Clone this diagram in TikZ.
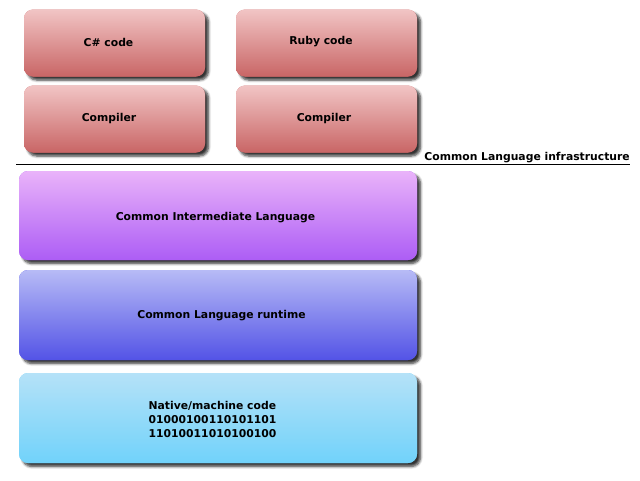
\documentclass[tikz,border=0pt]{standalone}
\usepackage{fontspec}
\setmainfont{DejaVu Sans}
\usetikzlibrary{shadows.blur}
\definecolor{redtop}{RGB}{242,198,198}
\definecolor{redbot}{RGB}{200,100,100}
\definecolor{purtop}{RGB}{234,180,250}
\definecolor{purbot}{RGB}{172,92,245}
\definecolor{blutop}{RGB}{184,188,246}
\definecolor{blubot}{RGB}{82,82,230}
\definecolor{cyntop}{RGB}{182,226,248}
\definecolor{cynbot}{RGB}{112,210,250}
\tikzset{
  box/.style={rounded corners=9pt, inner sep=0pt,
    blur shadow={shadow xshift=3.5pt, shadow yshift=-3.5pt, shadow blur steps=6, shadow opacity=80, shadow blur radius=2.5pt}},
  grad/.style 2 args={fill=#2, path picture={\shade[top color=#1, bottom color=#2]
      ([yshift=1pt]path picture bounding box.north west) rectangle ([yshift=-1pt]path picture bounding box.south east);}},
  txt/.style={inner sep=0pt, align=left, font=\bfseries\fontsize{10.8}{14}\selectfont},
  redbox/.style={box, grad={redtop}{redbot}, minimum width=181pt, minimum height=67pt},
  purbox/.style={box, grad={purtop}{purbot}, minimum width=398pt, minimum height=89pt},
  blubox/.style={box, grad={blutop}{blubot}, minimum width=398pt, minimum height=90pt},
  cynbox/.style={box, grad={cyntop}{cynbot}, minimum width=398pt, minimum height=90pt},
}
\begin{document}
\begin{tikzpicture}[x=1pt,y=-1pt]
\useasboundingbox (0,0) rectangle (640,480);
\node[redbox] (cs) at (114.5,43) {};
\node[redbox] (ruby) at (326.5,43) {};
\node[redbox] (comp1) at (114.5,119) {};
\node[redbox] (comp2) at (326.5,119) {};
\node[purbox] (cil) at (218,215.5) {};
\node[blubox] (clr) at (218,315) {};
\node[cynbox] (nat) at (218,418) {};
\node[txt] (tcs) at (108.5,42) {C\# code};
\node[txt] (truby) at (321,42) {Ruby code};
\node[txt] (tcomp1) at (109,119) {Compiler};
\node[txt] (tcomp2) at (324,119) {Compiler};
\node[txt] (tcil) at (215.5,218) {Common Intermediate Language};
\node[txt] (tclr) at (221.5,315.5) {Common Language runtime};
\node[txt] (tnat) at (212.5,419) {Native/machine code\\01000100110101101\\11010011010100100};
\coordinate (l1) at (16,164);
\node[anchor=base east, inner sep=0pt, font=\bfseries\fontsize{10.8}{12}\selectfont] (cli) at (630,160) {\underline{Common Language infrastructure}};
\draw[line width=0.9pt] (l1) -- (cli.west |- l1);
\end{tikzpicture}
\end{document}
